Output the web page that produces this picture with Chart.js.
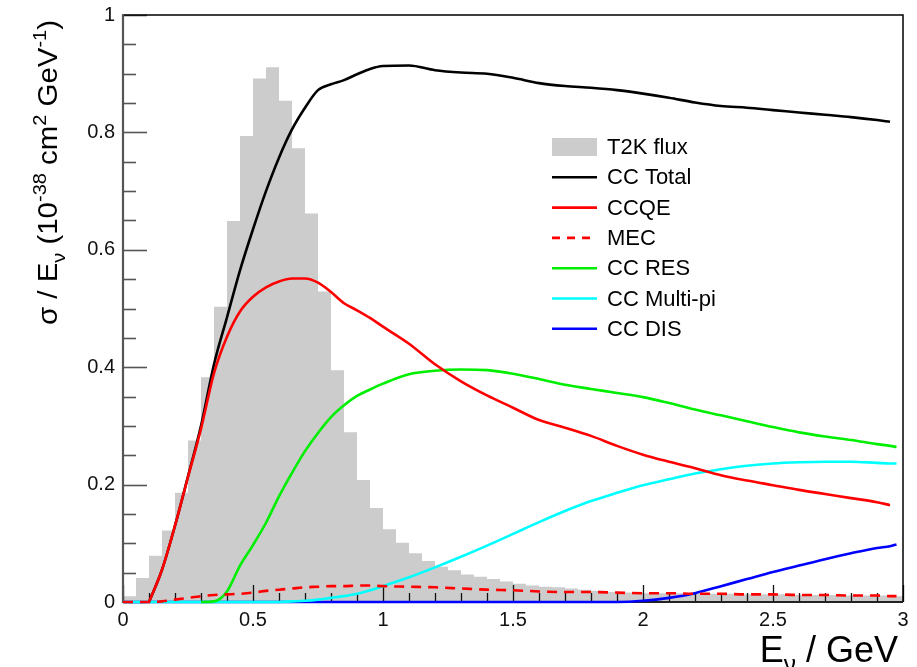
<!DOCTYPE html>
<html><head><meta charset="utf-8">
<script src="https://cdn.jsdelivr.net/npm/chart.js@4/dist/chart.umd.min.js"></script>
<style>html,body{margin:0;padding:0;background:#fff;}canvas{display:block;}</style>
</head><body>
<canvas id="c" width="917" height="667"></canvas>
<script>
// ---------- data ----------
const seriesLabels = ['T2K flux', 'CC Total', 'CCQE', 'MEC', 'CC RES', 'CC Multi-pi', 'CC DIS'];

// T2K flux histogram: lower bin edges (GeV) and bin contents
const fluxBinLow = [0,0.05,0.1,0.15,0.2,0.25,0.3,0.35,0.4,0.45,0.5,0.55,0.6,0.65,0.7,0.75,0.8,0.85,0.9,0.95,
  1.0,1.05,1.1,1.15,1.2,1.25,1.3,1.35,1.4,1.45,1.5,1.55,1.6,1.65,1.7,1.75,1.8,1.85,1.9,1.95,
  2.0,2.05,2.1,2.15,2.2,2.25,2.3,2.35,2.4,2.45,2.5,2.55,2.6,2.65,2.7,2.75,2.8,2.85,2.9,2.95];
const fluxUpperEdge = 3.0;
const fluxValues = [0.010,0.041,0.079,0.122,0.186,0.275,0.383,0.503,0.649,0.794,0.892,0.911,0.854,0.773,0.662,0.529,0.395,0.289,0.208,0.160,
  0.124,0.101,0.083,0.070,0.060,0.054,0.047,0.043,0.039,0.035,0.031,0.028,0.026,0.025,0.023,0.021,0.019,0.017,0.016,0.016,
  0.015,0.015,0.015,0.014,0.014,0.014,0.014,0.013,0.013,0.013,0.013,0.012,0.012,0.012,0.012,0.011,0.011,0.011,0.011,0.010];

// Cross-section curves, sampled on a common neutrino-energy grid (GeV)
const energy = [0,0.05,0.1,0.15,0.2,0.25,0.3,0.35,0.4,0.45,0.5,0.55,0.6,0.65,0.7,0.75,0.8,0.85,0.9,0.95,1.0,
  1.1,1.2,1.3,1.4,1.5,1.6,1.7,1.8,1.9,2.0,2.1,2.2,2.3,2.4,2.5,2.6,2.7,2.8,2.9,2.95,2.975];
const ccTotal = [null,null,0,0.055,0.13,0.214,0.300,0.405,0.485,0.565,0.635,0.700,0.757,0.805,0.842,0.872,0.882,0.889,0.899,0.908,0.913,
  0.914,0.906,0.902,0.900,0.893,0.884,0.879,0.876,0.872,0.866,0.859,0.851,0.845,0.842,0.838,0.834,0.830,0.826,0.821,0.818,null];
const ccqe = [null,null,0,0.055,0.13,0.213,0.295,0.390,0.452,0.495,0.520,0.536,0.546,0.551,0.551,0.544,0.528,0.509,0.497,0.484,0.469,
  0.440,0.405,0.376,0.352,0.331,0.310,0.297,0.283,0.266,0.251,0.239,0.228,0.216,0.207,0.199,0.191,0.184,0.177,0.170,0.165,null];
const mec = [0,0,0,0.001,0.004,0.007,0.010,0.012,0.013,0.014,0.016,0.019,0.021,0.023,0.025,0.026,0.027,0.027,0.028,0.028,0.027,
  0.026,0.025,0.023,0.021,0.020,0.018,0.017,0.017,0.016,0.015,0.015,0.014,0.014,0.013,0.013,0.012,0.012,0.011,0.011,0.010,0.010];
const ccRes = [null,null,null,null,null,null,0,0.001,0.018,0.062,0.097,0.135,0.180,0.220,0.257,0.288,0.315,0.335,0.351,0.362,0.372,
  0.388,0.394,0.396,0.395,0.389,0.380,0.370,0.363,0.356,0.349,0.339,0.328,0.318,0.308,0.298,0.289,0.282,0.276,0.269,0.266,0.264];
const ccMultiPi = [0,0,0,0,0,0,0,0,0,0,0,0,0,0.001,0.002,0.004,0.007,0.010,0.014,0.020,0.027,
  0.042,0.059,0.077,0.096,0.116,0.136,0.155,0.172,0.186,0.199,0.209,0.219,0.226,0.232,0.236,0.238,0.239,0.239,0.237,0.236,0.236];
const ccDis = [0,0,0,0,0,0,0,0,0,0,0,0,0,0,0,0,0,0,0,0,0,
  0,0,0,0,0,0,0,0,0,0.002,0.007,0.015,0.027,0.039,0.051,0.062,0.073,0.083,0.092,0.095,0.098];

const yTitleParts = [['σ / E',''],['ν','sub'],[' (10',''],['-38','sup'],[' cm',''],['2','sup'],[' GeV',''],['-1','sup'],[')','']];
const xTitleParts = [['E',''],['ν','sub'],[' / GeV','']];

// ---------- helpers ----------
const FONT = '"Liberation Sans", Arial, Helvetica, sans-serif';
const pts = arr => energy.map((e, i) => ({x: e, y: arr[i]}));
const fluxPts = fluxBinLow.map((e, i) => ({x: e, y: fluxValues[i]}))
  .concat([{x: fluxUpperEdge, y: fluxValues[fluxValues.length - 1]}]);
const fmt = v => String(Number(Number(v).toFixed(2)));

function lineDs(label, data, color, order, dash) {
  return {label, data: pts(data), borderColor: color, backgroundColor: color, borderWidth: 2.6,
    borderDash: dash || [], pointRadius: 0, fill: false, cubicInterpolationMode: 'monotone',
    spanGaps: false, order, clip: {left: 4, top: 4, right: 20, bottom: 4}};
}

const SUBR = 0.68;
function drawRich(ctx, parts, size) {
  let x = 0;
  for (const [t, kind] of parts) {
    const s = kind ? size * SUBR : size;
    ctx.font = s + 'px ' + FONT;
    const dy = kind === 'sub' ? size * 0.28 : kind === 'sup' ? -size * 0.42 : 0;
    ctx.fillText(t, x, dy);
    x += ctx.measureText(t).width;
  }
  return x;
}
function measureRich(ctx, parts, size) {
  let x = 0;
  for (const [t, kind] of parts) {
    ctx.font = (kind ? size * SUBR : size) + 'px ' + FONT;
    x += ctx.measureText(t).width;
  }
  return x;
}

// frame + inward ticks (drawn right after the histogram, before the curves)
const framePlugin = {
  id: 'rootFrame',
  afterDatasetDraw(chart, args) {
    if (args.index !== 0) return;
    const {ctx, chartArea: a, scales: {x, y}} = chart;
    ctx.save();
    ctx.strokeStyle = '#555'; ctx.lineWidth = 1.6;
    for (let k = 0; k <= 20; k++) {
      const v = k * 0.05, py = Math.round(y.getPixelForValue(v)) + 0.5;
      const len = (k % 4 === 0) ? 24 : 13;
      ctx.beginPath(); ctx.moveTo(a.left, py); ctx.lineTo(a.left + len, py); ctx.stroke();
    }
    ctx.strokeStyle = '#111'; ctx.lineWidth = 1.3;
    for (let k = 0; k <= 30; k++) {
      const v = k * 0.1, px = Math.round(x.getPixelForValue(v)) + 0.5;
      const len = (k % 5 === 0) ? 17 : 9;
      ctx.beginPath(); ctx.moveTo(px, a.bottom); ctx.lineTo(px, a.bottom - len); ctx.stroke();
    }
    ctx.strokeStyle = '#000'; ctx.lineWidth = 1.5;
    ctx.beginPath(); ctx.moveTo(a.left, a.top); ctx.lineTo(a.right, a.top); ctx.lineTo(a.right, a.bottom); ctx.stroke();
    ctx.strokeStyle = '#555'; ctx.lineWidth = 2.2;
    ctx.beginPath(); ctx.moveTo(a.left, a.top - 1); ctx.lineTo(a.left, a.bottom + 1); ctx.stroke();
    ctx.strokeStyle = '#222'; ctx.lineWidth = 1.8;
    ctx.beginPath(); ctx.moveTo(a.left, a.bottom); ctx.lineTo(a.right, a.bottom); ctx.stroke();
    ctx.restore();
  }
};

const decoPlugin = {
  id: 'deco',
  afterDraw(chart) {
    const {ctx, chartArea: a} = chart;
    ctx.save();
    // legend
    const lx = a.left + 0.55 * (a.right - a.left);
    const ly = a.top + 132;
    const rowH = 30.3, sw = 45;
    ctx.textBaseline = 'middle'; ctx.textAlign = 'left';
    chart.data.datasets.forEach((ds, i) => {
      const cy = ly + i * rowH;
      if (ds.fill) {
        ctx.fillStyle = ds.backgroundColor;
        ctx.fillRect(lx, cy - 9, sw, 18);
      } else {
        ctx.strokeStyle = ds.borderColor; ctx.lineWidth = 2.6;
        ctx.setLineDash(ds.borderDash && ds.borderDash.length ? [8, 7] : []);
        ctx.beginPath(); ctx.moveTo(lx, cy); ctx.lineTo(lx + sw, cy); ctx.stroke();
        ctx.setLineDash([]);
      }
      ctx.fillStyle = '#000';
      ctx.font = '22px ' + FONT;
      ctx.fillText(ds.label, lx + sw + 10, cy + 1);
    });
    // x title
    ctx.textBaseline = 'alphabetic';
    ctx.fillStyle = '#000';
    const xs = 36;
    const xw = measureRich(ctx, xTitleParts, xs);
    ctx.save();
    ctx.translate(a.right - 5 - xw, a.bottom + 60);
    drawRich(ctx, xTitleParts, xs);
    ctx.restore();
    // y title (rotated; ends near the top of the frame)
    const ys = 27;
    const yw = measureRich(ctx, yTitleParts, ys);
    const target = 305, sx = target / yw;
    ctx.save();
    ctx.translate(57, a.top + 5 + target);
    ctx.rotate(-Math.PI / 2);
    ctx.scale(sx, 1);
    drawRich(ctx, yTitleParts, ys);
    ctx.restore();
    ctx.restore();
  }
};

new Chart(document.getElementById('c'), {
  type: 'line',
  data: {
    datasets: [
      {label: seriesLabels[0], data: fluxPts, stepped: true, fill: 'origin', backgroundColor: '#cccccc',
        borderColor: 'rgba(0,0,0,0)', borderWidth: 0, pointRadius: 0, order: 10},
      lineDs(seriesLabels[1], ccTotal, '#000000', 4),
      lineDs(seriesLabels[2], ccqe, '#ff0000', 1),
      lineDs(seriesLabels[3], mec, '#ff0000', 2, [10, 7]),
      lineDs(seriesLabels[4], ccRes, '#00ee00', 3),
      lineDs(seriesLabels[5], ccMultiPi, '#00ffff', 5),
      lineDs(seriesLabels[6], ccDis, '#0000ff', 6)
    ]
  },
  options: {
    responsive: false, animation: false, devicePixelRatio: 1,
    layout: {padding: {top: 15, right: 14, left: 0, bottom: 0}},
    plugins: {legend: {display: false}, tooltip: {enabled: false}},
    scales: {
      x: {type: 'linear', min: 0, max: 3,
        ticks: {stepSize: 0.5, font: {family: FONT, size: 20}, color: '#111', padding: 6, maxRotation: 0, callback: fmt},
        grid: {display: false, drawTicks: false}, border: {display: false},
        afterFit: s => { s.height = 65; s.paddingLeft = 0; s.paddingRight = 0; }},
      y: {type: 'linear', min: 0, max: 1,
        ticks: {stepSize: 0.2, font: {family: FONT, size: 20}, color: '#111', padding: 8, callback: fmt},
        grid: {display: false, drawTicks: false}, border: {display: false},
        afterFit: s => { s.width = 123; s.paddingTop = 0; s.paddingBottom = 0; }}
    }
  },
  plugins: [framePlugin, decoPlugin]
});
</script>
</body></html>
